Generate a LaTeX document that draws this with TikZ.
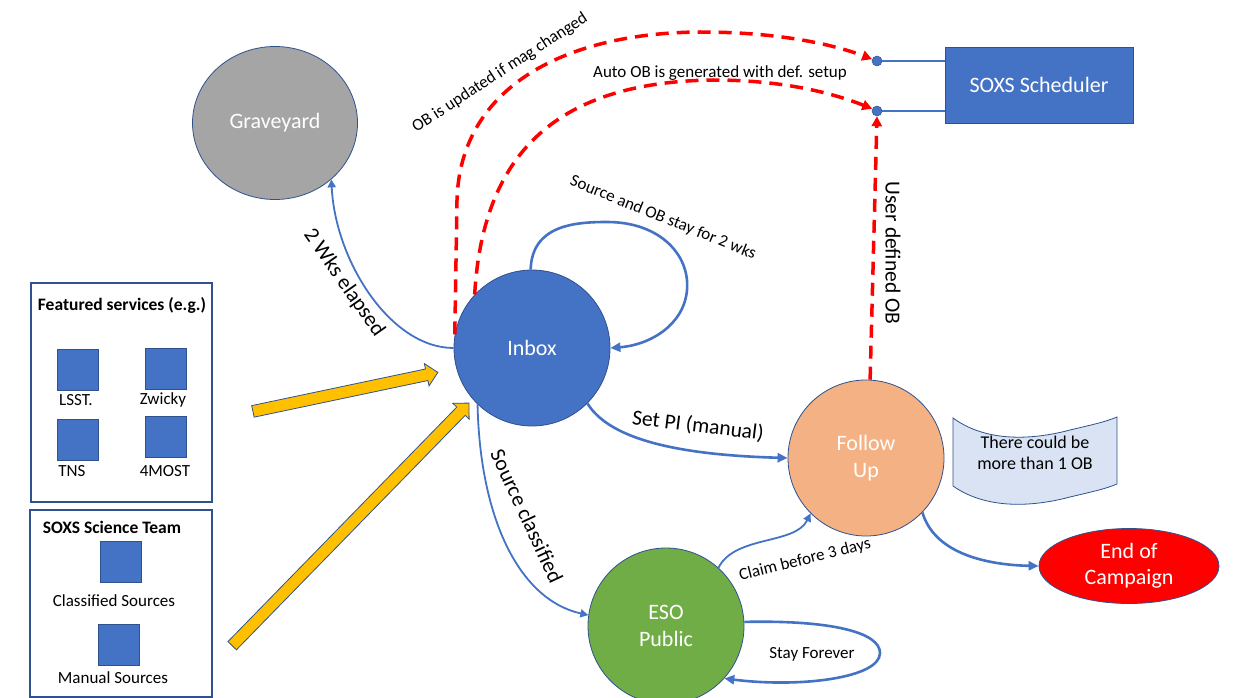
\documentclass[tikz,border=0pt]{standalone}
\usepackage{fontspec}
\setmainfont{Carlito}
\usetikzlibrary{arrows.meta,shapes.geometric,shapes.arrows,calc}
\definecolor{cblue}{HTML}{4472C4}
\definecolor{cdark}{HTML}{2F528F}
\definecolor{cgray}{HTML}{A5A5A5}
\definecolor{corange}{HTML}{F4B183}
\definecolor{cgreen}{HTML}{70AD47}
\definecolor{cred}{HTML}{FF0000}
\definecolor{cnote}{HTML}{DAE3F3}
\definecolor{cyellow}{HTML}{FFC000}
\begin{document}
\begin{tikzpicture}[x=1pt,y=-1pt,
  state/.style={circle, draw=cdark, line width=0.8pt, minimum size=156pt, inner sep=0pt, text=white, font=\fontsize{22}{26.5}\selectfont, align=center},
  flow/.style={draw=cblue, line width=2.6pt, -{Triangle[length=10pt,width=9pt]}},
  thinflow/.style={draw=cblue, line width=1.8pt, -{Triangle[length=8pt,width=8pt]}},
  obflow/.style={draw=cred, line width=3.5pt, dash pattern=on 13pt off 8pt, -{Triangle[length=10pt,width=10pt]}},
  lbl/.style={font=\fontsize{17}{20}\selectfont, inner sep=0pt},
  biglbl/.style={font=\fontsize{21.5}{25}\selectfont, inner sep=0pt},
  svc/.style={rectangle, draw=cdark, fill=cblue, line width=0.8pt, minimum size=41pt, inner sep=0pt},
  boxtxt/.style={font=\fontsize{17}{20}\selectfont, inner sep=0pt},
  boxtitle/.style={font=\bfseries\fontsize{17.5}{20}\selectfont, inner sep=0pt},
  panel/.style={draw=cdark, line width=1.6pt},
  fat/.style={single arrow, fill=cyellow, draw=cdark, line width=0.8pt, inner sep=5.5pt, single arrow head extend=5.5pt, single arrow tip angle=90},
  dot/.style={circle, fill=cblue, draw=cdark, line width=0.5pt, minimum size=10pt, inner sep=0pt}
]
\path[use as bounding box, fill=white] (0,0) rectangle (1233,698);

% panels
\draw[panel] (31,283) rectangle (212,502);
\node[boxtitle] (t1) at (122,305) {Featured services (e.g.)};
\node[svc] (lsst) at (78,370) {};
\node[svc] (zw) at (166,369) {};
\node[svc] (tns) at (78,440) {};
\node[svc] (fm) at (166,437) {};
\node[boxtxt] (llsst) at (76,400) {LSST.};
\node[boxtxt] (lzw) at (163,400) {Zwicky};
\node[boxtxt] (ltns) at (72,471) {TNS};
\node[boxtxt] (lfm) at (165,471) {4MOST};

\draw[panel] (30,510) rectangle (212,697);
\node[boxtitle] (t2) at (112,527) {SOXS Science Team};
\node[svc] (cls) at (121,562) {};
\node[svc] (man) at (119,645) {};
\node[boxtxt] (lcls) at (114,601) {Classified Sources};
\node[boxtxt] (lman) at (113,678) {Manual Sources};

% states
\node[ellipse, draw=cdark, line width=0.8pt, fill=cgray, minimum width=165pt, minimum height=153pt, inner sep=0pt, text=white, font=\fontsize{22}{26.5}\selectfont] (grave) at (275,123) {Graveyard};
\node[state, fill=cblue] (inbox) at (532,348) {Inbox};
\node[state, fill=corange] (follow) at (866,458) {Follow\\Up};
\node[state, fill=cgreen] (eso) at (666,626) {ESO\\Public};
\node[ellipse, draw=cdark, line width=0.8pt, fill=cred, minimum width=180pt, minimum height=75pt, inner sep=0pt, text=white, align=center, font=\fontsize{22}{26}\selectfont] (endc) at (1129,566) {End of\\Campaign};
\node[rectangle, draw=cdark, line width=0.8pt, fill=cblue, minimum width=188pt, minimum height=76pt, text=white, font=\fontsize{22}{26}\selectfont] (sched) at (1039,85) {SOXS Scheduler};

% scheduler ports
\node[dot] (dot1) at (877,61) {};
\node[dot] (dot2) at (877,111) {};
\draw[cblue, line width=1.5pt] (dot1) -- (dot1 -| sched.west);
\draw[cblue, line width=1.5pt] (dot2) -- (dot2 -| sched.west);

% note
\draw[draw=cdark, line width=0.8pt, fill=cnote] (953,418) .. controls (990,445) and (1040,438) .. (1070,430) .. controls (1095,424) and (1105,422) .. (1117,417) -- (1117,484) .. controls (1105,489) and (1095,491) .. (1070,497) .. controls (1040,505) and (990,512) .. (953,486) -- cycle;
\node[align=center, inner sep=0pt, font=\fontsize{18}{21}\selectfont] (note) at (1035,453) {There could be\\more than 1 OB};

% yellow input arrows
\node[fat, minimum height=189pt, rotate=11.9] (ya1) at (342.5,392.5) {};
\node[fat, minimum height=339pt, rotate=45.7] (ya2) at (348.5,526.5) {};

% connectors
\draw[thinflow] (inbox.180) .. controls (390,348) and (335,260) .. (grave.-45);
\node[biglbl, rotate=-55] (l2wk) at (344,283) {2 Wks elapsed};

\draw[flow] (inbox.91) .. controls (532,225) and (575,222) .. (607,222) .. controls (660,222) and (690,255) .. (687,290) .. controls (684,325) and (650,345) .. (inbox.0);
\node[lbl, rotate=-22] (lstay) at (663,218) {Source and OB stay for 2 wks};

\draw[flow] (inbox.-45) .. controls (610,440) and (680,455) .. (follow.180);
\node[biglbl, rotate=-7] (lsetpi) at (698,426) {Set PI (manual)};

\draw[thinflow] (inbox.-134) .. controls (480,520) and (520,600) .. (eso.172);
\node[biglbl, rotate=-65] (lsrc) at (527,516) {Source classified};

\draw[thinflow] (eso.48) .. controls (735,535) and (795,545) .. (follow.-135);
\node[lbl, rotate=14] (lclaim) at (805,560) {Claim before 3 days};

\draw[flow] (eso.3) .. controls (830,620) and (880,632) .. (880,653) .. controls (880,678) and (800,688) .. (eso.-42);
\node[lbl] (lforever) at (812,654) {Stay Forever};

\draw[flow] (follow.-44) .. controls (935,555) and (990,565) .. (endc.west);

% OB flows
\draw[obflow] (inbox.170) -- (457,200) .. controls (460,90) and (560,33) .. (700,32) .. controls (780,32) and (835,45) .. (dot1.160);
\node[lbl, rotate=33] (lupd) at (500,73) {OB is updated if mag changed};

\draw[obflow] (inbox.137) .. controls (483,150) and (560,82) .. (713,80) .. controls (780,80) and (830,92) .. (dot2.155);
\node[lbl] (lauto) at (720,73) {Auto OB is generated with def. setup};

\draw[obflow] (follow.87) -- (dot2.south);
\node[biglbl, rotate=-90] (luser) at (893,253) {User defined OB};
\end{tikzpicture}
\end{document}
